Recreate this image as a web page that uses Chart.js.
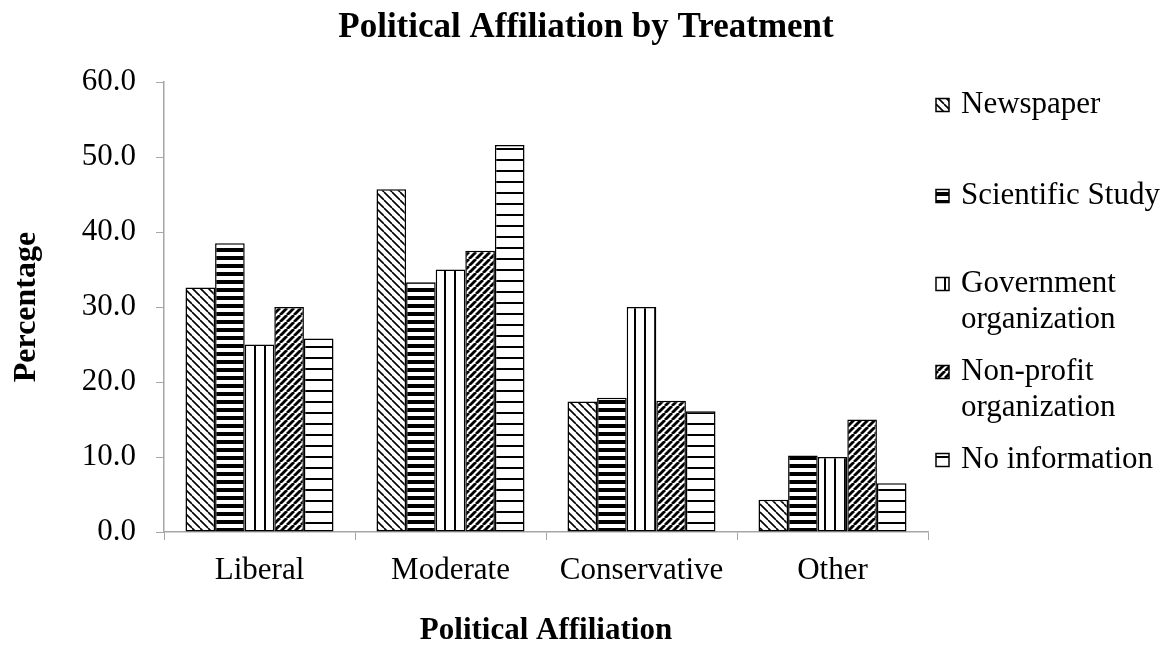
<!DOCTYPE html>
<html>
<head>
<meta charset="utf-8">
<title>Political Affiliation by Treatment</title>
<script src="https://cdn.jsdelivr.net/npm/chart.js@4"></script>
<style>
    html, body { margin: 0; padding: 0; background: #ffffff; }
    #wrap { position: relative; width: 1169px; height: 646px; }
</style>
</head>
<body>
<div id="wrap"><canvas id="affChart" width="1169" height="646"></canvas></div>
<script>
// Data
const categories = ['Liberal', 'Moderate', 'Conservative', 'Other'];
const newspaper = [32.6, 45.7, 17.4, 4.3];
const scientificStudy = [38.5, 33.3, 17.9, 10.2];
const governmentOrg = [25.0, 35.0, 30.0, 10.0];
const nonProfitOrg = [30.0, 37.5, 17.5, 15.0];
const noInformation = [25.8, 51.6, 16.1, 6.5];
const seriesNames = ['Newspaper', 'Scientific Study', 'Government organization', 'Non-profit organization', 'No information'];
const legendLines = [['Newspaper'], ['Scientific Study'], ['Government', 'organization'], ['Non-profit', 'organization'], ['No information']];
const yTicks = [0, 10, 20, 30, 40, 50, 60];
const chartTitle = 'Political Affiliation by Treatment';

const FONT = '"Liberation Serif", "Times New Roman", serif';

// Build a repeating hatch pattern from a small tile
function makePattern(w, h, draw) {
    const tile = document.createElement('canvas');
    tile.width = w;
    tile.height = h;
    const t = tile.getContext('2d');
    t.fillStyle = '#ffffff';
    t.fillRect(0, 0, w, h);
    t.fillStyle = '#000000';
    t.strokeStyle = '#000000';
    draw(t, w, h);
    return document.createElement('canvas').getContext('2d').createPattern(tile, 'repeat');
}

// downward diagonal, thin
const patNewspaper = makePattern(8, 8, (t, w, h) => {
    t.lineWidth = 1.6;
    for (let k = -1; k <= 1; k++) {
        t.beginPath();
        t.moveTo(k * w, 0);
        t.lineTo(k * w + w, h);
        t.stroke();
    }
});
// thick horizontal stripes
const patScientific = makePattern(8, 8, (t, w) => {
    t.fillRect(0, 0, w, 4);
});
// wide vertical lines
const patGovernment = makePattern(10, 10, (t, w, h) => {
    t.fillRect(4, 0, 2, h);
});
// upward diagonal, thick
const patNonProfit = makePattern(7, 7, (t, w, h) => {
    t.lineWidth = 2.8;
    for (let k = -1; k <= 1; k++) {
        t.beginPath();
        t.moveTo(k * w, h);
        t.lineTo(k * w + w, 0);
        t.stroke();
    }
});
// thin horizontal lines
const patNoInfo = makePattern(11, 11, (t, w) => {
    t.fillRect(0, 5, w, 2);
});

const patterns = [patNewspaper, patScientific, patGovernment, patNonProfit, patNoInfo];
const seriesValues = [newspaper, scientificStudy, governmentOrg, nonProfitOrg, noInformation];

// Title centred on the whole canvas, not just the plot
const pageTitle = {
    id: 'pageTitle',
    afterDraw(chart, args, opts) {
        const ctx = chart.ctx;
        ctx.save();
        ctx.font = 'bold ' + opts.fontSize + 'px ' + FONT;
        ctx.textAlign = 'center';
        ctx.textBaseline = 'middle';
        ctx.fillStyle = '#000000';
        ctx.fillText(chartTitle, opts.x, opts.y);
        ctx.restore();
    }
};

// Legend drawn by hand so the two-line entries wrap like the original
const sideLegend = {
    id: 'sideLegend',
    afterDraw(chart, args, opts) {
        const ctx = chart.ctx;
        ctx.save();
        ctx.font = opts.fontSize + 'px ' + FONT;
        ctx.textBaseline = 'middle';
        legendLines.forEach((lines, i) => {
            const y0 = opts.tops[i];
            const box = opts.box;
            ctx.fillStyle = patterns[i];
            ctx.fillRect(opts.x, y0 - box / 2, box, box);
            ctx.strokeStyle = '#000000';
            ctx.lineWidth = 1.5;
            ctx.strokeRect(opts.x, y0 - box / 2, box, box);
            ctx.fillStyle = '#000000';
            lines.forEach((txt, j) => {
                ctx.fillText(txt, opts.x + box + 12, y0 + j * opts.lineHeight);
            });
        });
        ctx.restore();
    }
};

new Chart(document.getElementById('affChart'), {
    type: 'bar',
    data: {
        labels: categories,
        datasets: seriesNames.map((name, i) => ({
            label: name,
            data: seriesValues[i],
            backgroundColor: patterns[i],
            borderColor: '#000000',
            borderWidth: 1.5,
            borderSkipped: false,
            categoryPercentage: 0.775,
            barPercentage: 1.0
        }))
    },
    options: {
        responsive: false,
        animation: false,
        layout: { padding: { left: 0, right: 241, top: 82, bottom: 0 } },
        plugins: {
            legend: { display: false },
            tooltip: { enabled: false },
            title: { display: false },
            pageTitle: { x: 586, y: 28, fontSize: 35 },
            sideLegend: {
                x: 936,
                box: 13,
                fontSize: 31,
                tops: [105, 196, 284, 372, 460],
                lineHeight: 36
            }
        },
        scales: {
            x: {
                afterFit(scale) { scale.height = 114; },
                grid: {
                    display: true,
                    drawOnChartArea: false,
                    drawTicks: true,
                    tickLength: 8,
                    color: '#a6a6a6',
                    offset: true
                },
                border: { color: '#a6a6a6', width: 1.5 },
                ticks: {
                    color: '#000000',
                    font: { family: FONT, size: 31 },
                    padding: 12
                },
                title: {
                    display: true,
                    text: 'Political Affiliation',
                    color: '#000000',
                    font: { family: FONT, size: 31, weight: 'bold', lineHeight: 1 },
                    padding: { top: 0, bottom: 0 }
                }
            },
            y: {
                min: 0,
                max: 60,
                afterFit(scale) { scale.width = 164; },
                afterBuildTicks(scale) {
                    scale.ticks = yTicks.map(v => ({ value: v }));
                },
                grid: {
                    display: true,
                    drawOnChartArea: false,
                    drawTicks: true,
                    tickLength: 8,
                    color: '#a6a6a6'
                },
                border: { color: '#a6a6a6', width: 1.5 },
                ticks: {
                    color: '#000000',
                    font: { family: FONT, size: 31 },
                    padding: 20,
                    callback: v => Number(v).toFixed(1)
                },
                title: {
                    display: true,
                    text: 'Percentage',
                    color: '#000000',
                    font: { family: FONT, size: 32, weight: 'bold', lineHeight: 1 },
                    padding: { top: 11, bottom: 0 }
                }
            }
        }
    },
    plugins: [pageTitle, sideLegend]
});
</script>
</body>
</html>
